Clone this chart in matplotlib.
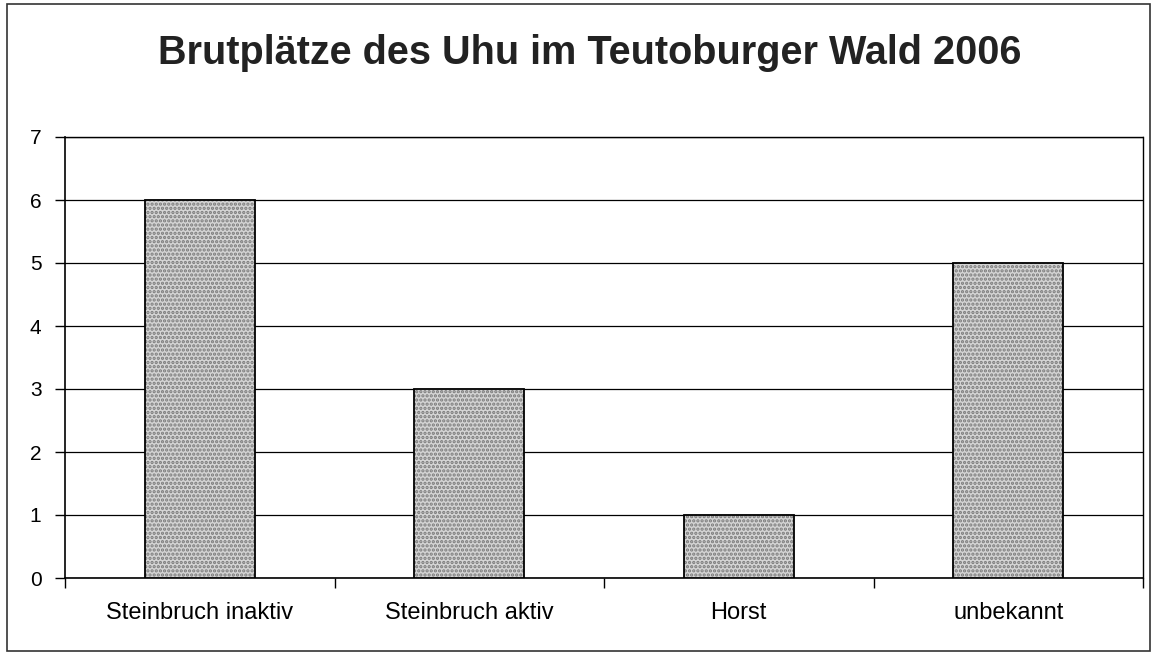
import matplotlib.pyplot as plt
from matplotlib.patches import Rectangle

# data
categories = ["Steinbruch inaktiv", "Steinbruch aktiv", "Horst", "unbekannt"]
counts = [6, 3, 1, 5]
yticks = [0, 1, 2, 3, 4, 5, 6, 7]
title = "Brutplätze des Uhu im Teutoburger Wald 2006"

plt.rcParams["font.family"] = ["Liberation Sans", "DejaVu Sans"]
plt.rcParams["hatch.linewidth"] = 1.6

fig = plt.figure(figsize=(11.55, 6.57), dpi=100)
ax = fig.add_axes([65 / 1155, 1 - 578 / 657, (1143 - 65) / 1155, (578 - 137) / 657])

x = list(range(len(categories)))
# stippled fill, then black outline
ax.bar(x, counts, width=0.41, color="#d4d4d4", edgecolor="#7a7a7a", hatch="....",
       linewidth=0, zorder=3)
ax.bar(x, counts, width=0.41, color="none", edgecolor="black", linewidth=1.3, zorder=4)

ax.set_xlim(-0.5, len(categories) - 0.5)
ax.set_ylim(0, 7)
ax.set_yticks(yticks)
ax.yaxis.grid(True, color="black", linewidth=0.9)
ax.set_axisbelow(True)

ax.set_xticks(x)
ax.set_xticklabels(categories, fontsize=17)
ax.tick_params(axis="x", length=0, pad=17)
ax.set_xticks([i + 0.5 for i in range(-1, len(categories))], minor=True)
ax.tick_params(axis="x", which="minor", length=7, width=1, direction="out")
ax.tick_params(axis="y", labelsize=15, length=7, width=1, pad=10)

ax.spines["left"].set_linewidth(1.2)
ax.spines["bottom"].set_linewidth(1.2)
ax.spines["top"].set_linestyle((0, (2, 1)))
ax.spines["top"].set_linewidth(1.0)
ax.spines["right"].set_linestyle((0, (3, 1)))
ax.spines["right"].set_linewidth(1.0)

fig.text(590 / 1155, 1 - 53 / 657, title, ha="center", va="center",
         fontsize=28.5, fontweight="bold", color="#222222")

# outer chart border
fig.patches.append(Rectangle((7 / 1155, 6 / 657), 1143 / 1155, 647 / 657,
                             transform=fig.transFigure, fill=False,
                             edgecolor="#333333", linewidth=1.2))

fig.savefig("out.png", dpi=100)
